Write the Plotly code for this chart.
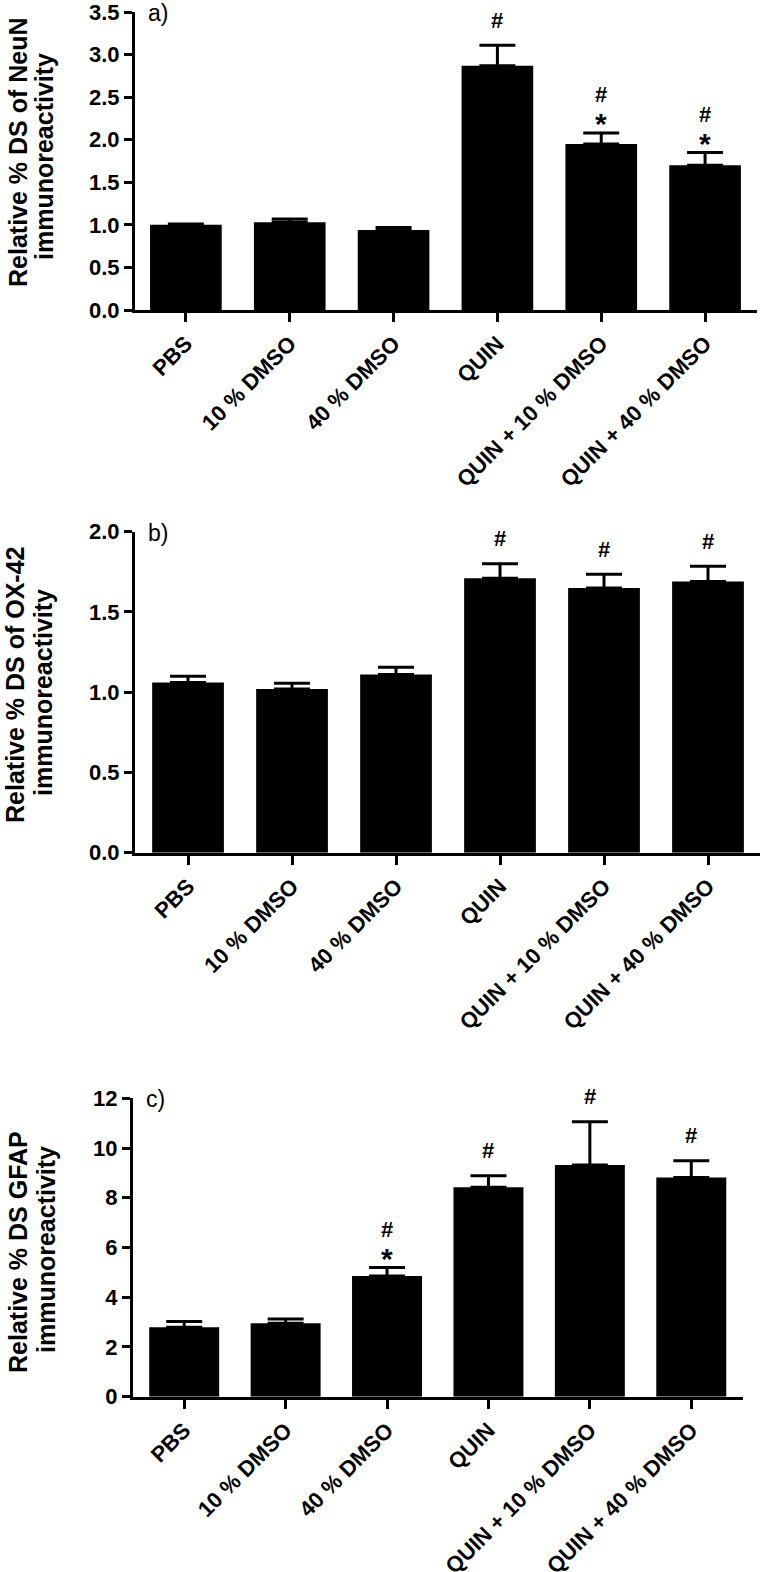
import plotly.graph_objects as go

# ---------------- data ----------------
categories = ["PBS", "10 % DMSO", "40 % DMSO", "QUIN", "QUIN + 10 % DMSO", "QUIN + 40 % DMSO"]

neun_mean = [1.00, 1.03, 0.94, 2.87, 1.95, 1.70]
neun_sem = [0.01, 0.04, 0.03, 0.24, 0.13, 0.15]
neun_marks = ["", "", "", "#", "#*", "#*"]

ox42_mean = [1.06, 1.02, 1.11, 1.71, 1.65, 1.69]
ox42_sem = [0.04, 0.035, 0.045, 0.09, 0.085, 0.095]
ox42_marks = ["", "", "", "#", "#", "#"]

gfap_mean = [2.79, 2.95, 4.85, 8.42, 9.32, 8.82]
gfap_sem = [0.23, 0.17, 0.35, 0.47, 1.74, 0.67]
gfap_marks = ["", "", "#*", "#", "#", "#"]

panel_letters = ["a)", "b)", "c)"]
title_lines = [
    ["Relative % DS of NeuN", "immunoreactivity"],
    ["Relative % DS of OX-42", "immunoreactivity"],
    ["Relative % DS GFAP", "immunoreactivity"],
]
y_ranges = [[0, 3.5], [0, 2.0], [0, 12]]
y_dticks = [0.5, 0.5, 2]
y_formats = [".1f", ".1f", "d"]

# ---------------- layout geometry (pixels) ----------------
W, H = 762, 1572
FONT = "Arial, Liberation Sans, Helvetica, sans-serif"

# per panel: (y_top_px, y_bottom_px, x_left_px, x_right_px, x_range)
panels_geo = [
    (12.0, 310.0, 135, 757, [-0.49, 5.5]),
    (531.7, 852.7, 135, 760, [-0.51, 5.5]),
    (1098.3, 1396.7, 133, 743, [-0.505, 5.51]),
]
title_pos = [
    [(18, 152), (44, 157)],
    [(15, 685), (43, 693)],
    [(18, 1252), (46, 1250)],
]

means = [neun_mean, ox42_mean, gfap_mean]
sems = [neun_sem, ox42_sem, gfap_sem]
marks = [neun_marks, ox42_marks, gfap_marks]

fig = go.Figure()
annotations = []
layout_axes = {}

for i in range(3):
    xa = "x" if i == 0 else f"x{i+1}"
    ya = "y" if i == 0 else f"y{i+1}"
    top, bot, xl, xr, xrng = panels_geo[i]
    fig.add_trace(go.Bar(
        x=categories, y=means[i],
        xaxis=xa, yaxis=ya,
        width=0.69,
        marker=dict(color="black", line=dict(width=0)),
        error_y=dict(type="data", symmetric=False, array=sems[i],
                     arrayminus=[0] * len(sems[i]),
                     color="black", thickness=3, width=18),
        showlegend=False,
        hoverinfo="skip",
    ))
    xkey = "xaxis" if i == 0 else f"xaxis{i+1}"
    ykey = "yaxis" if i == 0 else f"yaxis{i+1}"
    layout_axes[xkey] = dict(
        domain=[xl / W, xr / W], anchor=ya, range=xrng,
        type="category", categoryorder="array", categoryarray=categories,
        showline=True, linewidth=3, linecolor="black",
        ticks="outside", ticklen=9, tickwidth=3, tickcolor="black",
        tickangle=-45, showgrid=False, zeroline=False,
        tickfont=dict(family=FONT, size=22, color="black", weight="bold"),
        ticklabeloverflow="allow",
        automargin=False,
    )
    layout_axes[ykey] = dict(
        domain=[1 - bot / H, 1 - top / H], anchor=xa, range=y_ranges[i],
        dtick=y_dticks[i], tick0=0, tickformat=y_formats[i],
        showline=True, linewidth=3, linecolor="black",
        ticks="outside", ticklen=8, tickwidth=3, tickcolor="black",
        showgrid=False, zeroline=False,
        tickfont=dict(family=FONT, size=22, color="black", weight="bold"),
        ticklabeloverflow="allow",
        automargin=False,
    )
    # panel letter
    annotations.append(dict(
        text=panel_letters[i], xref="paper", yref="paper",
        x=(xl + 11) / W, y=1 - (top + 1) / H, xanchor="left", yanchor="middle",
        showarrow=False, font=dict(family=FONT, size=23, color="black"),
    ))
    # y titles (two lines)
    for (tx, ty), line in zip(title_pos[i], title_lines[i]):
        annotations.append(dict(
            text=line, xref="paper", yref="paper", x=tx / W, y=1 - ty / H,
            xanchor="center", yanchor="middle", textangle=-90, showarrow=False,
            font=dict(family=FONT, size=25, color="black", weight="bold"),
        ))
    # significance marks above error caps
    for c, m, mval, s in zip(categories, marks[i], means[i], sems[i]):
        if not m:
            continue
        top_val = mval + s
        if "*" in m:
            annotations.append(dict(
                text="*", x=c, y=top_val, xref=xa, yref=ya, yshift=9,
                xanchor="center", yanchor="middle", showarrow=False,
                font=dict(family=FONT, size=30, color="black", weight="bold"),
            ))
            hash_shift = 38
        else:
            hash_shift = 25
        annotations.append(dict(
            text="#", x=c, y=top_val, xref=xa, yref=ya, yshift=hash_shift,
            xanchor="center", yanchor="middle", showarrow=False,
            font=dict(family=FONT, size=22, color="black", weight="bold"),
        ))

fig.update_layout(
    width=W, height=H,
    margin=dict(l=0, r=0, t=0, b=0),
    paper_bgcolor="white", plot_bgcolor="white",
    bargap=0.3,
    annotations=annotations,
    **layout_axes,
)

fig.write_html(
    "out.html",
    config={"displayModeBar": False},
    post_script="document.body.style.margin='0';document.body.style.overflow='hidden';",
)
